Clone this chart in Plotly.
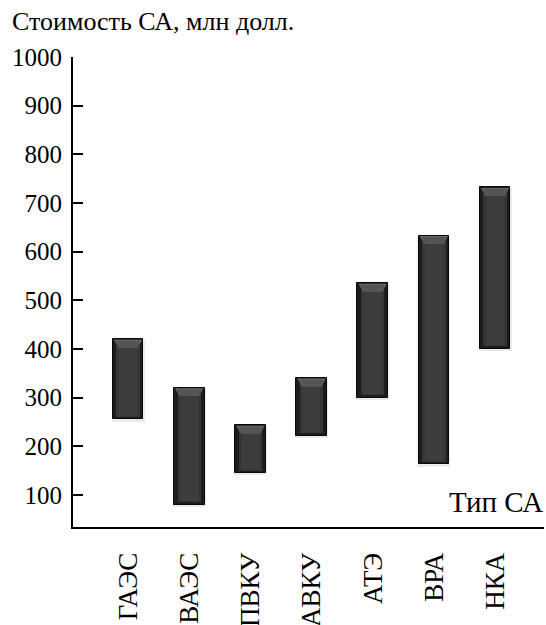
import plotly.graph_objects as go

# Cost ranges of satellite systems, million dollars
categories = ["ГАЭС", "ВАЭС", "ПВКУ", "АВКУ", "АТЭ", "ВРА", "НКА"]
cost_low = [255, 80, 145, 222, 300, 163, 400]
cost_high = [420, 320, 243, 340, 535, 633, 732]
y_ticks = [100, 200, 300, 400, 500, 600, 700, 800, 900, 1000]

FONT = "'Liberation Serif'"
xs = list(range(len(categories)))
spans = [h - l for l, h in zip(cost_low, cost_high)]
BAR_W = 0.5

fig = go.Figure()

# soft drop shadow under each bar
fig.add_trace(go.Bar(
    x=xs, y=[s + 3 for s in spans], base=[l - 5 for l in cost_low],
    width=BAR_W + 0.04, marker=dict(color="rgba(0,0,0,0.08)", line=dict(width=0)),
    hoverinfo="skip", showlegend=False))

# dark outer body
fig.add_trace(go.Bar(
    x=xs, y=spans, base=cost_low, width=BAR_W,
    marker=dict(color="#1c1c1c", line=dict(color="#0a0a0a", width=1)),
    showlegend=False, hovertemplate="%{x}: %{base}–%{y}<extra></extra>"))

# lighter inner face
fig.add_trace(go.Bar(
    x=xs, y=[s - 16 for s in spans], base=[l + 5 for l in cost_low], width=BAR_W - 0.12,
    marker=dict(color="#363636", line=dict(width=0)),
    hoverinfo="skip", showlegend=False))
fig.add_trace(go.Bar(
    x=xs, y=[s - 22 for s in spans], base=[l + 8 for l in cost_low], width=BAR_W - 0.22,
    marker=dict(color="#3d3d3d", line=dict(width=0)),
    hoverinfo="skip", showlegend=False))

# bevelled top edge of each bar
for xi, h in zip(xs, cost_high):
    hw = BAR_W / 2
    fig.add_trace(go.Scatter(
        x=[xi - hw + 0.02, xi + hw - 0.02, xi + hw - 0.09, xi - hw + 0.09, xi - hw + 0.02],
        y=[h - 1, h - 1, h - 17, h - 17, h - 1],
        mode="lines", fill="toself", fillcolor="#6a6a6a",
        line=dict(width=0), hoverinfo="skip", showlegend=False))
    fig.add_trace(go.Scatter(
        x=[xi - hw + 0.05, xi + hw - 0.05, xi + hw - 0.09, xi - hw + 0.09, xi - hw + 0.05],
        y=[h - 3, h - 3, h - 17, h - 17, h - 3],
        mode="lines", fill="toself", fillcolor="#555555",
        line=dict(width=0), hoverinfo="skip", showlegend=False))

fig.update_layout(
    width=546, height=625,
    margin=dict(l=73, r=2, t=57, b=98),
    paper_bgcolor="white", plot_bgcolor="white",
    barmode="overlay", bargap=0,
    font=dict(family=FONT, size=25, color="black"),
    xaxis=dict(
        range=[-0.9, 6.8], tickmode="array", tickvals=xs, ticktext=categories,
        tickangle=-90, ticks="", showline=True, linecolor="black", linewidth=2,
        showgrid=False, zeroline=False, ticklabelstandoff=13, automargin=False,
        tickfont=dict(family=FONT, size=27, color="black")),
    yaxis=dict(
        range=[34, 1000], tickmode="array", tickvals=y_ticks,
        ticks="inside", ticklen=10, tickwidth=2, tickcolor="black",
        showline=True, linecolor="black", linewidth=2, automargin=False,
        showgrid=False, zeroline=False, ticklabelstandoff=4,
        tickfont=dict(family=FONT, size=25, color="black")),
    annotations=[
        dict(text="Стоимость СА, млн долл.", xref="paper", yref="paper",
             x=-0.134, y=1.0745, xanchor="left", yanchor="middle", showarrow=False,
             font=dict(family=FONT, size=26, color="black")),
        dict(text="Тип СА", xref="paper", yref="paper",
             x=1.003, y=0.053, xanchor="right", yanchor="middle", showarrow=False,
             font=dict(family=FONT, size=29, color="black")),
    ],
)

fig.write_html("out.html")
